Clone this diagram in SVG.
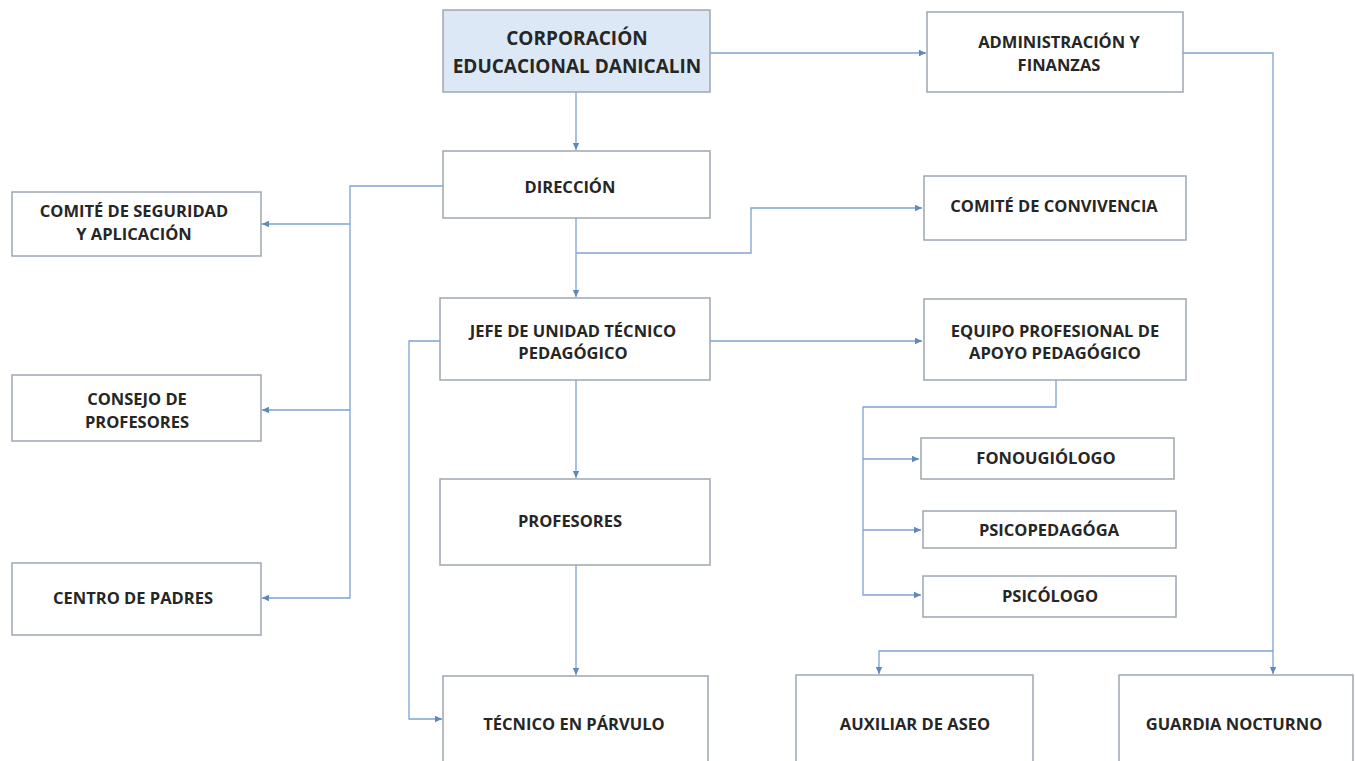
<svg xmlns="http://www.w3.org/2000/svg" width="1355" height="761" viewBox="0 0 1355 761">
<style>
.box{fill:#ffffff;stroke:#9ea6b0;stroke-width:1.5}
.corp{fill:#dce8f5}
.t{font-family:"Open Sans","Liberation Sans",sans-serif;font-weight:700;font-size:16.5px;fill:#262626;text-anchor:middle}
.big{font-size:19px}
.c{fill:none;stroke:#7da2cf;stroke-width:1.3}
</style>
<defs>
<marker id="a" markerWidth="8" markerHeight="8" refX="7" refY="4" orient="auto" markerUnits="userSpaceOnUse">
<path d="M0,0.8 L7,4 L0,7.2 Z" fill="#5f88bd"/>
</marker>
</defs>
<rect width="1355" height="761" fill="#ffffff"/>
<g id="connectors">
<path class="c" d="M710,53 H926" marker-end="url(#a)"/>
<path class="c" d="M1183,53 H1273 V674" marker-end="url(#a)"/>
<path class="c" d="M1273,651 H879 V674" marker-end="url(#a)"/>
<path class="c" d="M576,92 V150" marker-end="url(#a)"/>
<path class="c" d="M443,186 H350 V598 H262" marker-end="url(#a)"/>
<path class="c" d="M350,224 H262" marker-end="url(#a)"/>
<path class="c" d="M350,410 H262" marker-end="url(#a)"/>
<path class="c" d="M576,218 V297" marker-end="url(#a)"/>
<path class="c" d="M576,253 H751 V208 H922" marker-end="url(#a)"/>
<path class="c" d="M710,341 H922" marker-end="url(#a)"/>
<path class="c" d="M440,341 H409 V719 H442" marker-end="url(#a)"/>
<path class="c" d="M576,380 V478" marker-end="url(#a)"/>
<path class="c" d="M576,565 V675" marker-end="url(#a)"/>
<path class="c" d="M1056,380 V407 H863 V595 H921" marker-end="url(#a)"/>
<path class="c" d="M863,459 H919" marker-end="url(#a)"/>
<path class="c" d="M863,530 H921" marker-end="url(#a)"/>
</g>
<g id="corporacion">
<rect class="box corp" x="443" y="10" width="267" height="82"/>
<text class="t big" x="577" y="45">CORPORACIÓN</text>
<text class="t big" x="577" y="73">EDUCACIONAL DANICALIN</text>
</g>
<g id="administracion">
<rect class="box" x="927" y="12" width="256" height="80"/>
<text class="t" x="1059" y="48">ADMINISTRACIÓN Y</text>
<text class="t" x="1059" y="71">FINANZAS</text>
</g>
<g id="direccion">
<rect class="box" x="443" y="151" width="267" height="67"/>
<text class="t" x="570" y="193">DIRECCIÓN</text>
</g>
<g id="comite-seguridad">
<rect class="box" x="12" y="192" width="249" height="64"/>
<text class="t" x="134" y="217">COMITÉ DE SEGURIDAD</text>
<text class="t" x="134" y="240">Y APLICACIÓN</text>
</g>
<g id="consejo">
<rect class="box" x="12" y="375" width="249" height="66"/>
<text class="t" x="137" y="405">CONSEJO DE</text>
<text class="t" x="137" y="428">PROFESORES</text>
</g>
<g id="centro-padres">
<rect class="box" x="12" y="563" width="249" height="72"/>
<text class="t" x="133" y="604">CENTRO DE PADRES</text>
</g>
<g id="comite-convivencia">
<rect class="box" x="924" y="176" width="262" height="64"/>
<text class="t" x="1054" y="212">COMITÉ DE CONVIVENCIA</text>
</g>
<g id="jefe-utp">
<rect class="box" x="440" y="298" width="270" height="82"/>
<text class="t" x="573" y="337">JEFE DE UNIDAD TÉCNICO</text>
<text class="t" x="573" y="359">PEDAGÓGICO</text>
</g>
<g id="equipo">
<rect class="box" x="924" y="299" width="262" height="81"/>
<text class="t" x="1055" y="337">EQUIPO PROFESIONAL DE</text>
<text class="t" x="1055" y="359">APOYO PEDAGÓGICO</text>
</g>
<g id="fonoaudiologo">
<rect class="box" x="921" y="438" width="253" height="41"/>
<text class="t" x="1046" y="464">FONOUGIÓLOGO</text>
</g>
<g id="psicopedagoga">
<rect class="box" x="923" y="511" width="253" height="37"/>
<text class="t" x="1049" y="536">PSICOPEDAGÓGA</text>
</g>
<g id="psicologo">
<rect class="box" x="923" y="576" width="253" height="41"/>
<text class="t" x="1050" y="602">PSICÓLOGO</text>
</g>
<g id="profesores">
<rect class="box" x="440" y="479" width="270" height="86"/>
<text class="t" x="570" y="527">PROFESORES</text>
</g>
<g id="tecnico">
<rect class="box" x="443" y="676" width="265" height="90"/>
<text class="t" x="574" y="730">TÉCNICO EN PÁRVULO</text>
</g>
<g id="auxiliar">
<rect class="box" x="796" y="675" width="237" height="90"/>
<text class="t" x="915" y="730">AUXILIAR DE ASEO</text>
</g>
<g id="guardia">
<rect class="box" x="1119" y="675" width="234" height="90"/>
<text class="t" x="1234" y="730">GUARDIA NOCTURNO</text>
</g>
</svg>
